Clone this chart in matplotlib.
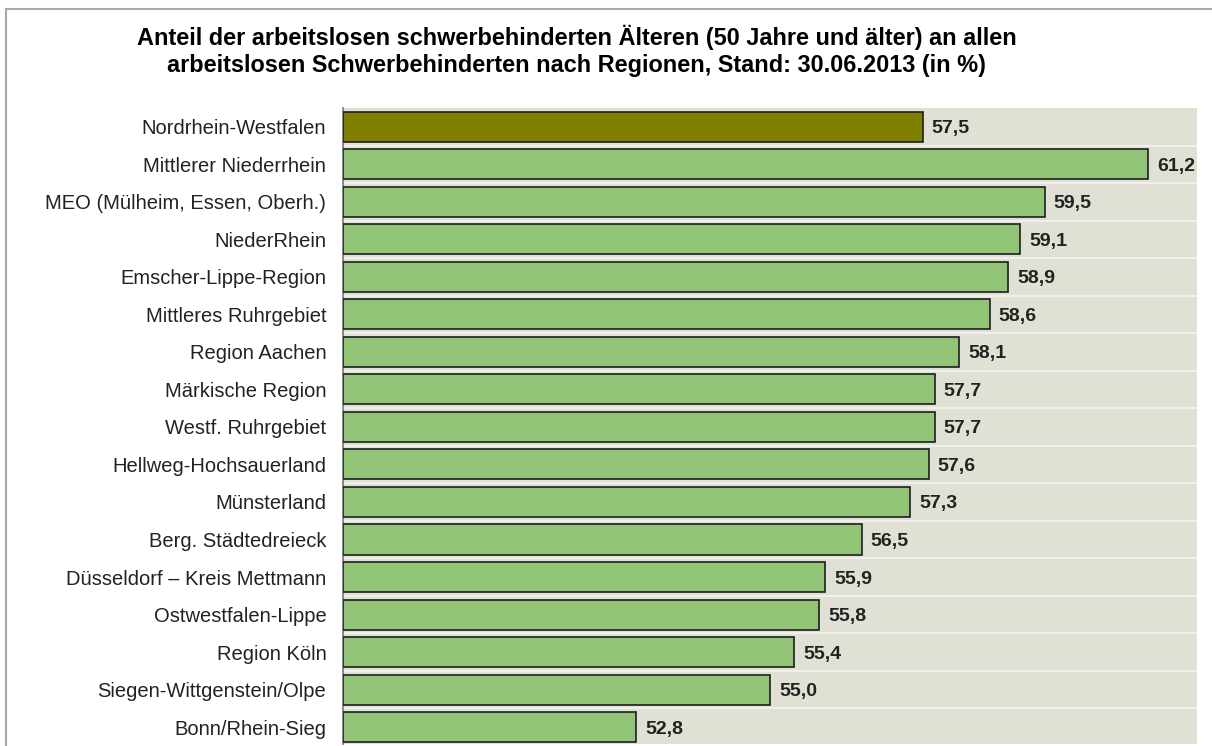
import matplotlib.pyplot as plt
from matplotlib.patches import Rectangle

plt.rcParams['font.family'] = ['Liberation Sans', 'DejaVu Sans']

regions = ["Nordrhein-Westfalen", "Mittlerer Niederrhein", "MEO (Mülheim, Essen, Oberh.)",
           "NiederRhein", "Emscher-Lippe-Region", "Mittleres Ruhrgebiet", "Region Aachen",
           "Märkische Region", "Westf. Ruhrgebiet", "Hellweg-Hochsauerland", "Münsterland",
           "Berg. Städtedreieck", "Düsseldorf – Kreis Mettmann", "Ostwestfalen-Lippe",
           "Region Köln", "Siegen-Wittgenstein/Olpe", "Bonn/Rhein-Sieg"]
values = [57.5, 61.2, 59.5, 59.1, 58.9, 58.6, 58.1, 57.7, 57.7, 57.6, 57.3,
          56.5, 55.9, 55.8, 55.4, 55.0, 52.8]

colors = ['#808000'] + ['#92c478'] * (len(values) - 1)

fig = plt.figure(figsize=(12.12, 7.46), dpi=100)
ax = fig.add_axes([343/1212, 1 - 744/746, (1197-343)/1212, (744-108)/746])
ax.set_facecolor('#e0e0d4')

ypos = list(range(len(values)))
ax.barh(ypos, [v - 48 for v in values], left=48, height=0.8, color=colors,
        edgecolor='#1e1e1e', linewidth=1.2, zorder=3)

# faint separators between rows
for i in range(len(values) - 1):
    ax.axhline(i + 0.5, color='#f0f0ea', linewidth=1.5, zorder=1)

for y, v in zip(ypos, values):
    ax.text(v + 0.15, y, f"{v:.1f}".replace('.', ','), va='center_baseline', ha='left',
            fontsize=14, fontweight='bold', color='#222222', zorder=4)

ax.set_xlim(48, 62)
ax.set_ylim(16.45, -0.5)
ax.set_yticks(ypos)
ax.set_yticklabels(regions, fontsize=14.5, color='#222222')
ax.tick_params(axis='y', length=0, pad=12)
ax.set_xticks([])
for s in ['top', 'right', 'bottom']:
    ax.spines[s].set_visible(False)
ax.spines['left'].set_color('#777777')
ax.spines['left'].set_linewidth(1.2)

fig.text(0.476, 0.932, "Anteil der arbeitslosen schwerbehinderten Älteren (50 Jahre und älter) an allen\n"
         "arbeitslosen Schwerbehinderten nach Regionen, Stand: 30.06.2013 (in %)",
         ha='center', va='center', fontsize=16.9, fontweight='bold', linespacing=1.25)

# outer frame
fig.patches.append(Rectangle((6/1212, -0.01), 1.1, 1 - 9/746 + 0.01, transform=fig.transFigure,
                             fill=False, edgecolor='#a8a8a8', linewidth=1.5))

fig.savefig('out.png', dpi=100)
